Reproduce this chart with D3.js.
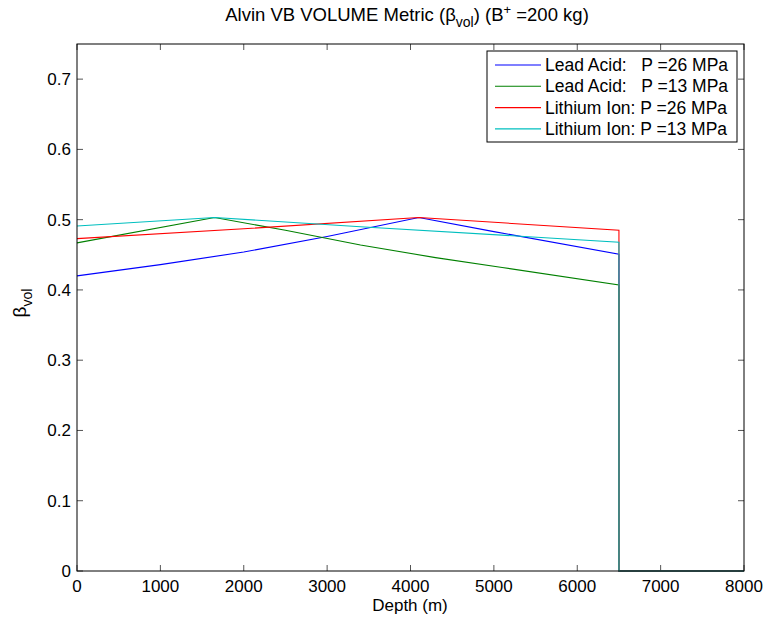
<!DOCTYPE html>
<html>
<head>
<meta charset="utf-8">
<script src="https://cdn.jsdelivr.net/npm/d3@7"></script>
<style>
body { margin: 0; background: #fff; }
text { font-family: "Liberation Sans", Arial, sans-serif; fill: #000; }
</style>
</head>
<body>
<div id="chart-area"></div>
<script>
// data
var leadAcid26 = [[0, 0.420], [1000, 0.436], [2000, 0.454], [3000, 0.476], [4100, 0.503], [5000, 0.483], [6500, 0.451], [6500, 0], [8000, 0]];
var leadAcid13 = [[0, 0.467], [1650, 0.503], [2500, 0.485], [3400, 0.464], [4300, 0.446], [5100, 0.432], [6500, 0.407], [6500, 0], [8000, 0]];
var lithium26 = [[0, 0.473], [2000, 0.487], [4100, 0.503], [6500, 0.485], [6500, 0], [8000, 0]];
var lithium13 = [[0, 0.491], [1650, 0.503], [3400, 0.490], [6500, 0.468], [6500, 0], [8000, 0]];

var seriesNames = ["Lead Acid:   P =26 MPa", "Lead Acid:   P =13 MPa", "Lithium Ion: P =26 MPa", "Lithium Ion: P =13 MPa"];
var seriesColors = ["#0000ff", "#008000", "#ff0000", "#00bfbf"];
var xTicks = [0, 1000, 2000, 3000, 4000, 5000, 6000, 7000, 8000];
var yTicks = [0, 0.1, 0.2, 0.3, 0.4, 0.5, 0.6, 0.7];

var margin = {top: 44, right: 20, bottom: 48, left: 77};
var width = 667;
var height = 527;

var svg = d3.select('#chart-area')
    .append('svg')
        .attr('width', 764)
        .attr('height', 619);

var g = svg.append("g")
    .attr("transform", "translate(" + margin.left + ", " + margin.top + ")");

var x = d3.scaleLinear().domain([0, 8000]).range([0, width]);
var y = d3.scaleLinear().domain([0, 0.75]).range([height, 0]);

// ticks (inward, on all four sides)
var tickLen = 6;
xTicks.forEach((t) => {
    g.append("line").attr("x1", x(t)).attr("x2", x(t)).attr("y1", height).attr("y2", height - tickLen)
        .attr("stroke", "#555").attr("stroke-width", 1);
    g.append("line").attr("x1", x(t)).attr("x2", x(t)).attr("y1", 0).attr("y2", tickLen)
        .attr("stroke", "#555").attr("stroke-width", 1);
    g.append("text").attr("x", x(t)).attr("y", height + 21)
        .attr("text-anchor", "middle").attr("font-size", "17px").text(t);
});
yTicks.forEach((t) => {
    g.append("line").attr("x1", 0).attr("x2", tickLen).attr("y1", y(t)).attr("y2", y(t))
        .attr("stroke", "#555").attr("stroke-width", 1);
    g.append("line").attr("x1", width).attr("x2", width - tickLen).attr("y1", y(t)).attr("y2", y(t))
        .attr("stroke", "#555").attr("stroke-width", 1);
    g.append("text").attr("x", -6).attr("y", y(t) + 6)
        .attr("text-anchor", "end").attr("font-size", "17px").text(t);
});

// lines
var line = d3.line().x((d) => x(d[0])).y((d) => y(d[1]));
[leadAcid26, leadAcid13, lithium26, lithium13].forEach((s, i) => {
    g.append("path").datum(s)
        .attr("d", line)
        .attr("fill", "none")
        .attr("stroke", seriesColors[i])
        .attr("stroke-width", 1.1);
});

// box
g.append("rect").attr("x", 0).attr("y", 0).attr("width", width).attr("height", height)
    .attr("fill", "none").attr("stroke", "#000").attr("stroke-width", 1);

// title
var title = svg.append("text").attr("x", 407).attr("y", 21)
    .attr("text-anchor", "middle").attr("font-size", "18.5px");
title.append("tspan").text("Alvin VB VOLUME Metric (\u03b2");
title.append("tspan").attr("font-size", "14px").attr("dy", 6).text("vol");
title.append("tspan").attr("dy", -6).text(") (B");
title.append("tspan").attr("font-size", "13px").attr("dy", -7).text("+");
title.append("tspan").attr("dy", 7).text(" =200 kg)");

// axis labels
svg.append("text").attr("x", 410).attr("y", 611)
    .attr("text-anchor", "middle").attr("font-size", "17px").text("Depth (m)");

var ylab = svg.append("text").attr("transform", "translate(26, 303) rotate(-90)")
    .attr("text-anchor", "middle").attr("font-size", "19px");
ylab.append("tspan").text("\u03b2");
ylab.append("tspan").attr("font-size", "14px").attr("dy", 6).text("vol");

// legend
var legend = svg.append("g").attr("transform", "translate(487, 51)");
legend.append("rect").attr("x", 0).attr("y", 0).attr("width", 250).attr("height", 91)
    .attr("fill", "#fff").attr("stroke", "#000").attr("stroke-width", 1);
seriesNames.forEach((n, i) => {
    var yy = 14 + i * 21.3;
    legend.append("line").attr("x1", 8).attr("x2", 54).attr("y1", yy).attr("y2", yy)
        .attr("stroke", seriesColors[i]).attr("stroke-width", 1.1);
    legend.append("text").attr("x", 58).attr("y", yy + 6)
        .attr("font-size", "17.5px").style("white-space", "pre").text(n);
});
</script>
</body>
</html>
